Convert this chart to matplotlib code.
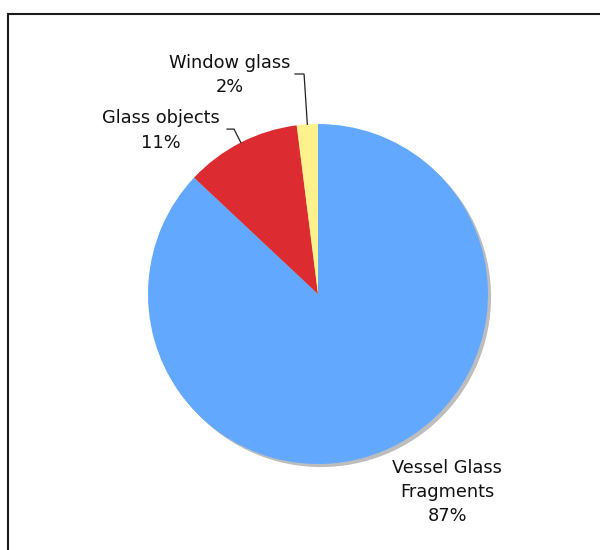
import matplotlib
matplotlib.use("Agg")
import matplotlib.pyplot as plt
from matplotlib.patches import Rectangle, Circle
import numpy as np

labels = ["Vessel Glass\nFragments", "Glass objects", "Window glass"]
values = [87, 11, 2]
colors = ["#62A8FF", "#DC2B31", "#FFF28C"]

W, H = 600, 550
fig = plt.figure(figsize=(6, 5.5), dpi=100)
fig.patch.set_facecolor("white")

# frame
fig.patches.append(Rectangle((8 / W, -0.05), 1.2, 1 - 14 / H + 0.05,
                             transform=fig.transFigure, fill=False,
                             edgecolor="#1a1a1a", linewidth=1.5))

cx, cy, r = 318, 294, 170
ax = fig.add_axes([(cx - r) / W, (H - cy - r) / H, 2 * r / W, 2 * r / H])
ax.set_aspect("equal")
ax.axis("off")

shadow = Circle((0.018, -0.018), 1.0, facecolor="#bdbdbd", edgecolor="none", zorder=0)
shadow.set_clip_on(False)
ax.add_patch(shadow)
wedges, _ = ax.pie(values, colors=colors, startangle=90, counterclock=False,
                   radius=1.0, wedgeprops=dict(linewidth=0))
for w in wedges:
    w.set_zorder(1)
    w.set_clip_on(False)
ax.set_xlim(-1, 1)
ax.set_ylim(-1, 1)

fs = 12.8
font = "DejaVu Sans"

# label positions (data coords) and leader elbows
text_pos = [(0.759, -1.165), (-0.924, 0.962), (-0.518, 1.29)]
elbows = [None, ((-0.494, 0.97), (-0.535, 0.97)), ((-0.082, 1.294), (-0.135, 1.294))]

total = sum(values)
start = 90.0
for i, (lab, v) in enumerate(zip(labels, values)):
    frac = v / total
    mid = start - 360 * frac / 2
    start -= 360 * frac
    ang = np.deg2rad(mid)
    px, py = np.cos(ang), np.sin(ang)
    if elbows[i] is not None:
        (ex, ey), (hx, hy) = elbows[i]
        ax.plot([px, ex, hx], [py, ey, hy], color="#222222", lw=0.9,
                clip_on=False, zorder=3, solid_joinstyle="miter")
    tx, ty = text_pos[i]
    ax.text(tx, ty, f"{lab}\n{v}%", ha="center", va="center", fontsize=fs,
            family=font, color="#111111", linespacing=1.45, clip_on=False)

fig.savefig("out.png", dpi=100)
